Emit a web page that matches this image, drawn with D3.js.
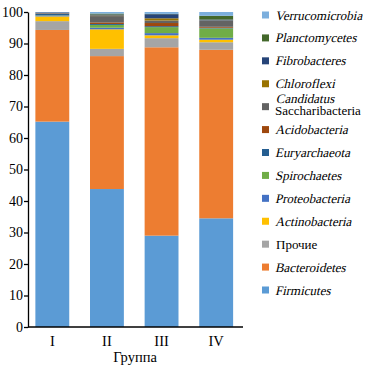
<!DOCTYPE html>
<html>
<head>
<script src="https://d3js.org/d3.v7.js"></script>
<style>
  body { margin: 0; background: #fff; }
</style>
</head>
<body>
<div id="chart"></div>
<script>
const groups = ['I', 'II', 'III', 'IV']
const taxa = ['Firmicutes', 'Bacteroidetes', 'Прочие', 'Actinobacteria', 'Proteobacteria',
              'Spirochaetes', 'Euryarchaeota', 'Acidobacteria', 'Candidatus Saccharibacteria',
              'Chloroflexi', 'Fibrobacteres', 'Planctomycetes', 'Verrucomicrobia']
const colours = ['#5B9BD5', '#ED7D31', '#A5A5A5', '#FFC000', '#4472C4', '#70AD47', '#255E91',
                 '#9E480E', '#636363', '#997300', '#264478', '#43682B', '#7CAFDD']
// values per taxon, one per group (I, II, III, IV), %
const firmicutes      = [65.2, 43.8, 29.0, 34.5]
const bacteroidetes   = [29.1, 42.2, 59.8, 53.5]
const other           = [2.8, 2.3, 2.9, 2.4]
const actinobacteria  = [1.5, 6.2, 0.9, 0.8]
const proteobacteria  = [0.2, 0.5, 0.7, 0.6]
const spirochaetes    = [0.1, 0.9, 1.9, 3.0]
const euryarchaeota   = [0.6, 0.3, 0.3, 0.2]
const acidobacteria   = [0.1, 0.5, 1.0, 0.3]
const saccharibacteria = [0.1, 2.0, 0.8, 1.9]
const chloroflexi     = [0.0, 0.2, 0.7, 0.1]
const fibrobacteres   = [0.2, 0.3, 1.3, 0.3]
const planctomycetes  = [0.0, 0.3, 0.1, 1.2]
const verrucomicrobia = [0.1, 0.5, 0.6, 1.2]
const yTicks = [0, 10, 20, 30, 40, 50, 60, 70, 80, 90, 100]

const series = [firmicutes, bacteroidetes, other, actinobacteria, proteobacteria, spirochaetes,
                euryarchaeota, acidobacteria, saccharibacteria, chloroflexi, fibrobacteres,
                planctomycetes, verrucomicrobia]

const serif = 'Liberation Serif'
const w = 383, h = 367
const svg = d3.select('#chart').append('svg').attr('width', w).attr('height', h)

const table = groups.map((g, i) => {
    const row = { group: g }
    taxa.forEach((t, k) => { row[t] = series[k][i] })
    return row
})
const stacked = d3.stack().keys(taxa)(table)

const xScale = d3.scaleBand().domain(groups).range([25, 243.5]).paddingInner(0.38).paddingOuter(0.19)
const yScale = d3.scaleLinear().domain([0, 100]).range([327, 12])
const colour = d3.scaleOrdinal().domain(taxa).range(colours)

svg.append('g')
    .selectAll('g')
    .data(stacked)
    .enter()
    .append('g')
    .attr('fill', d => colour(d.key))
    .selectAll('rect')
    .data(d => d)
    .enter()
    .append('rect')
    .attr('x', d => xScale(d.data.group))
    .attr('y', d => yScale(d[1]))
    .attr('width', xScale.bandwidth())
    .attr('height', d => yScale(d[0]) - yScale(d[1]))

const yAxis = svg.append('g')
    .attr('transform', 'translate(28,0)')
    .call(d3.axisLeft(yScale).tickValues(yTicks).tickSize(4).tickSizeOuter(0))
yAxis.attr('font-family', serif)
yAxis.select('.domain').attr('stroke', '#000').attr('stroke-width', 1.3)
yAxis.selectAll('.tick line').attr('stroke', '#000').attr('stroke-width', 1.3)
yAxis.selectAll('.tick text').attr('font-size', 14).attr('fill', '#000').attr('x', -5)

const xAxis = svg.append('g')
    .attr('transform', 'translate(0,327)')
    .call(d3.axisBottom(xScale).tickSize(0).tickPadding(9))
xAxis.attr('font-family', serif)
xAxis.select('.domain').attr('d', 'M28,0H243').attr('stroke', '#000').attr('stroke-width', 1.3)
xAxis.selectAll('.tick text').attr('font-size', 14.5).attr('fill', '#000')

svg.append('text')
    .attr('x', 135).attr('y', 362)
    .attr('text-anchor', 'middle')
    .attr('font-family', serif)
    .attr('font-size', 14.5)
    .text('Группа')

// legend, top entry is the last series
// the serif italic face is not installed, so italics are slanted by hand
const slant = 'skewX(-13)'
const legendY = d3.scalePoint().domain(taxa.slice().reverse()).range([15, 290])
const legend = svg.append('g')
    .attr('font-family', serif)
    .attr('font-size', 13)
    .selectAll('g')
    .data(taxa.slice().reverse())
    .enter()
    .append('g')
    .attr('transform', d => 'translate(262,' + legendY(d) + ')')
legend.append('rect')
    .attr('x', 0).attr('y', -3.5).attr('width', 7).attr('height', 7)
    .attr('fill', d => colour(d))
legend.each(function (d) {
    const g = d3.select(this)
    if (d === 'Candidatus Saccharibacteria') {
        g.append('text').attr('x', 13).attr('y', -3.5).attr('transform', slant).text('Candidatus')
        g.append('text').attr('x', 13).attr('y', 8.5).text('Saccharibacteria')
    } else {
        g.append('text').attr('x', 14).attr('y', 4.5)
            .attr('transform', d === 'Прочие' ? null : slant).text(d)
    }
})
</script>
</body>
</html>
